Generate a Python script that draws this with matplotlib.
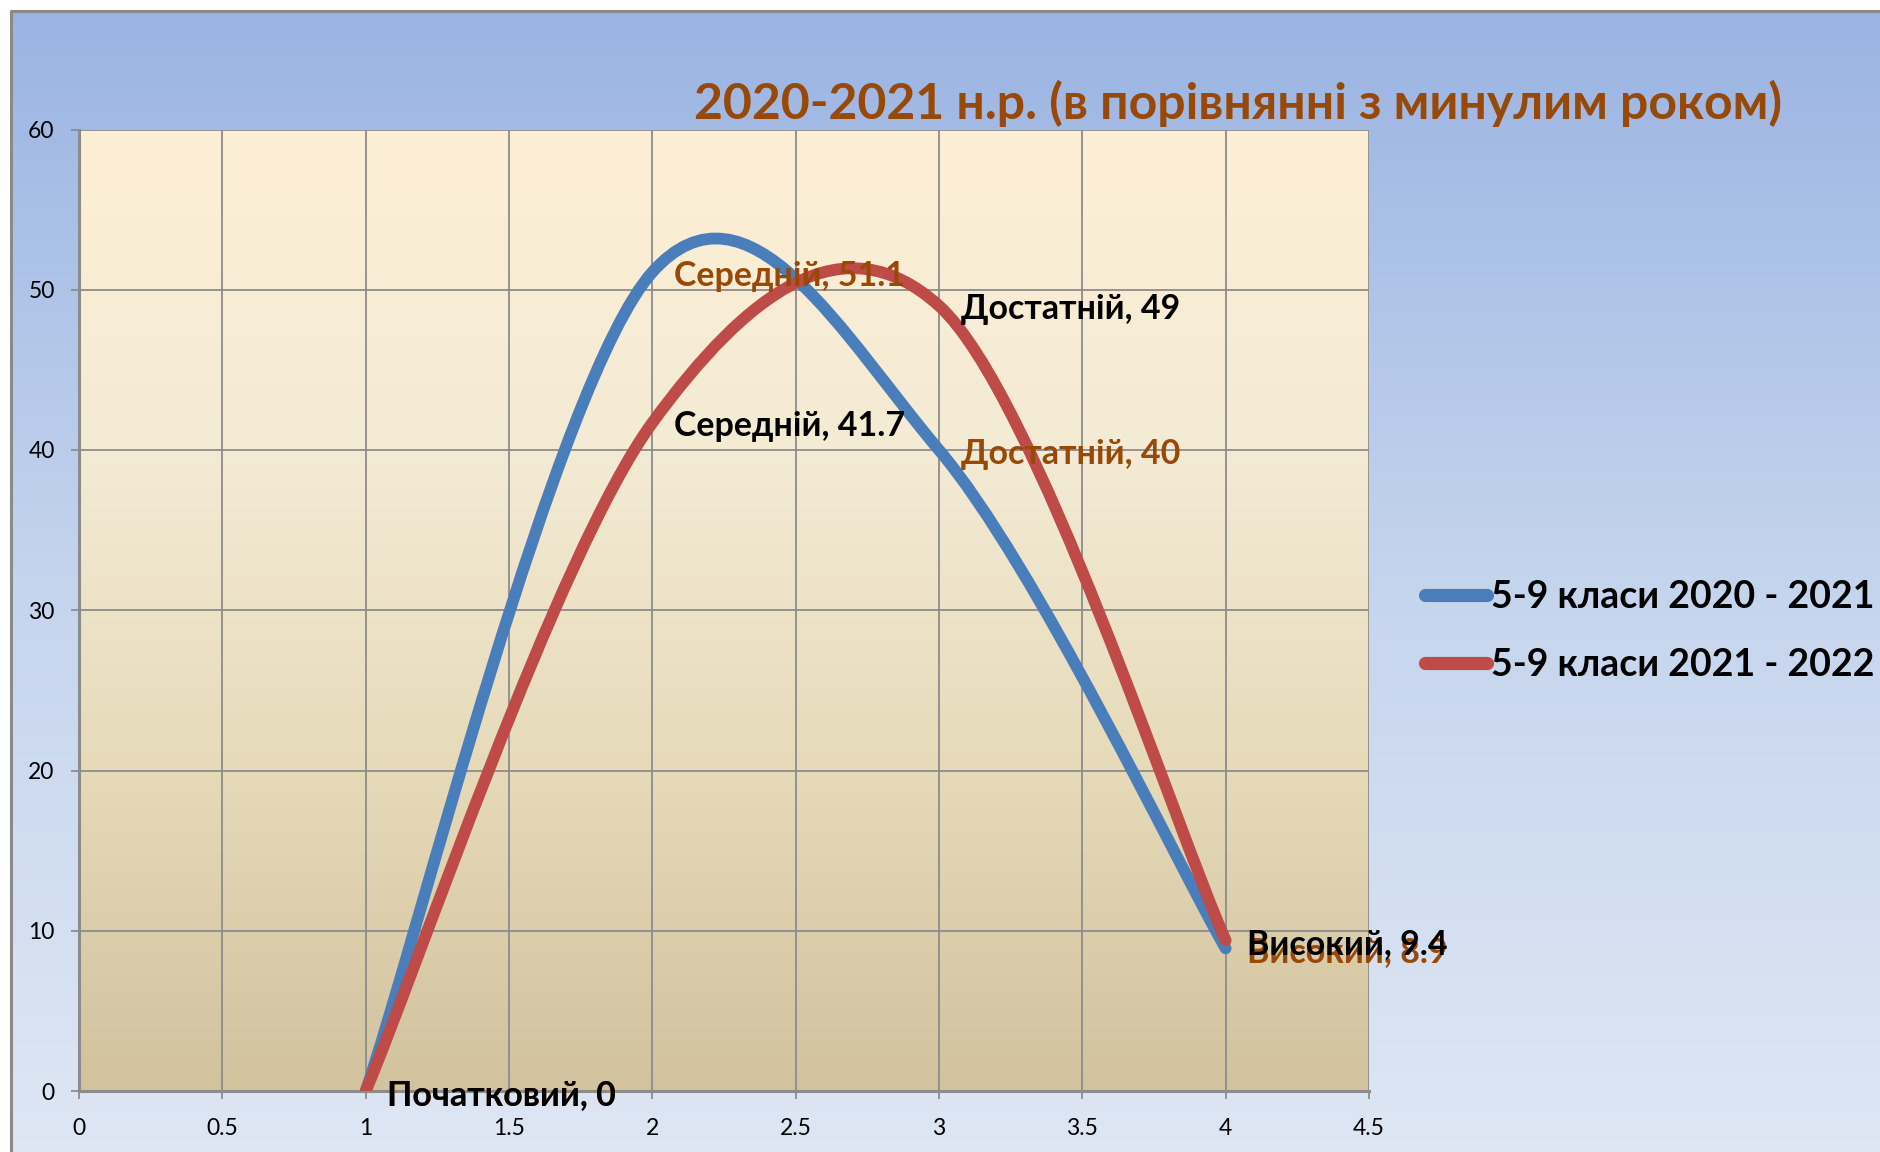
import numpy as np
import matplotlib
matplotlib.use("Agg")
import matplotlib.pyplot as plt
from matplotlib.path import Path
from matplotlib.patches import PathPatch
from matplotlib.lines import Line2D
from matplotlib.colors import LinearSegmentedColormap

plt.rcParams['font.family'] = ['Lato', 'DejaVu Sans']

# ---- data ----
levels = ["Початковий", "Середній", "Достатній", "Високий"]
x_pos = [1, 2, 3, 4]
series_names = ["5-9 класи 2020 - 2021", "5-9 класи 2021 - 2022"]
values_2020 = [0, 51.1, 40, 8.9]
values_2021 = [0, 41.7, 49, 9.4]
title = "2020-2021 н.р. (в порівнянні з минулим роком)"
x_ticks = [0, 0.5, 1, 1.5, 2, 2.5, 3, 3.5, 4, 4.5]
x_ticklabels = ["0", "0.5", "1", "1.5", "2", "2.5", "3", "3.5", "4", "4.5"]
y_ticks = [0, 10, 20, 30, 40, 50, 60]

# ---- style ----
BLUE = "#4a7ebb"
RED = "#be4b48"
BROWN = "#984807"
GRID = "#8c8c8c"

W, H = 1880, 1152
fig = plt.figure(figsize=(W / 100, H / 100), dpi=100)
fig.patch.set_facecolor("white")

# figure background gradient (chart area)
bg = fig.add_axes([0, 0, 1, 1], zorder=-10)
bg.set_axis_off()
bg_cmap = LinearSegmentedColormap.from_list("bg", ["#dfe7f4", "#c6d5ee", "#9ab4e2"])
grad = np.linspace(0, 1, 256).reshape(-1, 1)
fx0, fy1 = 11 / W, 1 - 11 / H
bg.imshow(grad, aspect="auto", cmap=bg_cmap, origin="lower",
          extent=[fx0, 1.02, -0.02, fy1])
bg.set_xlim(0, 1)
bg.set_ylim(0, 1)
bg.plot([fx0, fx0, 1.0], [-0.01, fy1, fy1], color="#8a8a8a", lw=2.2,
        solid_capstyle="butt")

# plot axes
left, right = 79 / W, 1369 / W
bottom, top = 1 - 1091 / H, 1 - 129.5 / H
ax = fig.add_axes([left, bottom, right - left, top - bottom])
ax.set_xlim(0, 4.5)
ax.set_ylim(0, 60)
ax.patch.set_alpha(0)

pa_cmap = LinearSegmentedColormap.from_list("pa", ["#d2c29e", "#e6dab9", "#f4ebd6", "#fdefd4"])
ax.imshow(grad, aspect="auto", cmap=pa_cmap, origin="lower",
          extent=[0, 4.5, 0, 60], zorder=0)

ax.set_xticks(x_ticks)
ax.set_xticklabels(x_ticklabels)
ax.set_yticks(y_ticks)
ax.grid(True, color=GRID, lw=1.3, zorder=1)
for s in ["top", "right"]:
    ax.spines[s].set_visible(False)
for s in ["left", "bottom"]:
    ax.spines[s].set_color(GRID)
    ax.spines[s].set_linewidth(2.2)
ax.tick_params(axis="both", direction="out", length=5.5, width=1.3,
               color=GRID, labelsize=16.5, labelcolor="black")
ax.tick_params(axis="x", pad=14)
ax.tick_params(axis="y", pad=12)


def smooth_path(xs, ys):
    pts = list(zip(xs, ys))
    n = len(pts)
    verts = [pts[0]]
    codes = [Path.MOVETO]
    for i in range(n - 1):
        p0 = pts[i - 1] if i > 0 else pts[i]
        p1 = pts[i]
        p2 = pts[i + 1]
        p3 = pts[i + 2] if i + 2 < n else pts[i + 1]
        c1 = (p1[0] + (p2[0] - p0[0]) / 6, p1[1] + (p2[1] - p0[1]) / 6)
        c2 = (p2[0] - (p3[0] - p1[0]) / 6, p2[1] - (p3[1] - p1[1]) / 6)
        verts += [c1, c2, p2]
        codes += [Path.CURVE4] * 3
    return Path(verts, codes)


LW = 8.5
for vals, col, z in [(values_2020, BLUE, 3), (values_2021, RED, 4)]:
    patch = PathPatch(smooth_path(x_pos, vals), facecolor="none", edgecolor=col,
                      lw=LW, capstyle="round", joinstyle="round", zorder=z)
    ax.add_patch(patch)

# data labels
for vals, col, z in [(values_2020, BROWN, 6), (values_2021, "black", 7)]:
    for xp, v, lab in zip(x_pos, vals, levels):
        ax.annotate(f"{lab}, {v:g}", xy=(xp, v), xytext=(15.5, -2.6),
                    textcoords="offset points", ha="left", va="center",
                    fontsize=24.5, fontweight="bold", color=col, zorder=z,
                    annotation_clip=False)

# title
fig.text(1238 / W, 1 - 103 / H, title, ha="center", va="center",
         fontsize=36, fontweight="bold", color=BROWN)

# legend
handles = [Line2D([], [], color=BLUE, lw=9.5, solid_capstyle="round"),
           Line2D([], [], color=RED, lw=9.5, solid_capstyle="round")]
fig.legend(handles, series_names, loc="upper left",
           bbox_to_anchor=(1425 / W, 1 - 580 / H), frameon=False,
           prop={"size": 27, "weight": "bold"}, handlelength=1.65,
           handletextpad=0.1, labelspacing=0.9, borderaxespad=0,
           borderpad=0)

fig.savefig("out.png", dpi=100)
